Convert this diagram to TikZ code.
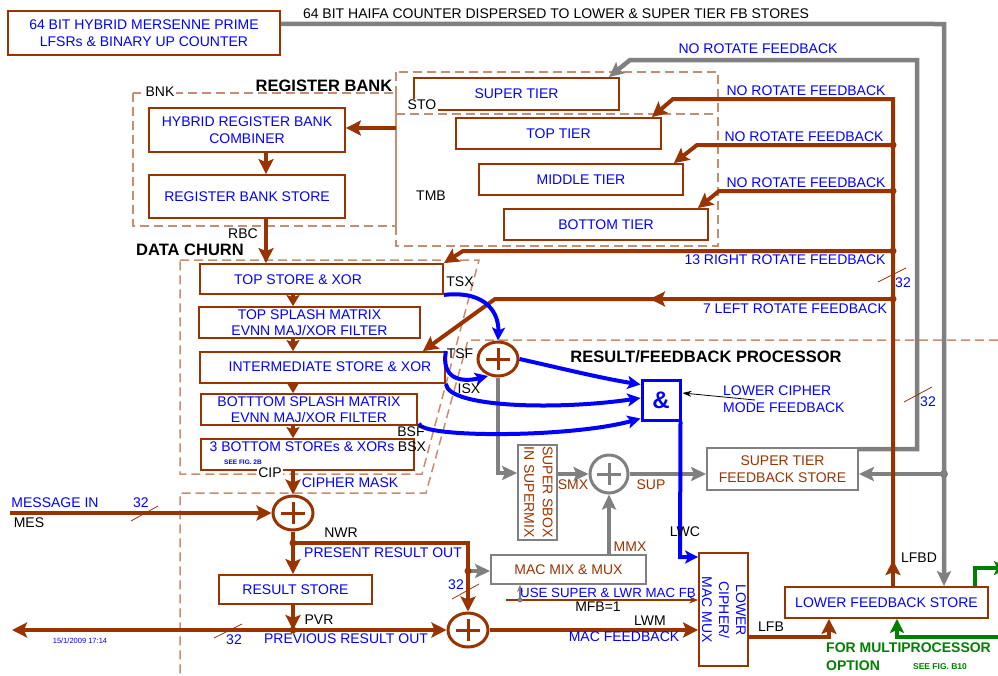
\documentclass[tikz,border=0pt]{standalone}
\usepackage{fontspec}
\setmainfont{Liberation Sans}
\usetikzlibrary{arrows.meta,shapes.geometric,calc}

\definecolor{rust}{RGB}{153,51,0}
\definecolor{ink}{RGB}{0,0,255}
\definecolor{steel}{RGB}{128,128,128}
\definecolor{frame}{RGB}{200,140,110}
\definecolor{optgreen}{RGB}{0,128,0}

\tikzset{
  base/.style={font=\fontsize{14}{16.5}\selectfont, inner sep=0pt},
  box/.style={base, draw=rust, line width=1.8pt, text=ink, align=center},
  gbox/.style={base, draw=steel, line width=1.8pt, text=rust, align=center},
  lbl/.style={base, text=black},
  wlbl/.style={base, text=black, fill=white, inner sep=1.5pt},
  blbl/.style={base, text=ink},
  rlbl/.style={base, text=rust},
  glbl/.style={font=\fontsize{14}{16.5}\selectfont\bfseries, inner sep=0pt, text=optgreen},
  title/.style={font=\fontsize{16.5}{19}\selectfont\bfseries, inner sep=0pt},
  rbus/.style={draw=rust, line width=4pt},
  rarr/.style={rbus, -{Stealth[length=15pt,width=15pt,inset=3pt]}},
  rstub/.style={rbus, -{Stealth[length=11pt,width=13pt,inset=2pt]}},
  gbus/.style={draw=steel, line width=4.5pt},
  garr/.style={gbus, -{Stealth[length=15pt,width=14pt,inset=3pt]}},
  barr/.style={draw=ink, line width=4pt, -{Stealth[length=13pt,width=13pt,inset=3pt]}},
  optarr/.style={draw=optgreen, line width=4pt, -{Stealth[length=14pt,width=14pt,inset=3pt]}},
  zone/.style={draw=frame, line width=1.5pt, dash pattern=on 9pt off 5pt},
  tick/.style={draw=rust, line width=0.8pt},
  xorgate/.style={ellipse, draw=#1, line width=3pt, minimum width=40pt,
    minimum height=34pt, inner sep=0pt,
    path picture={\draw[#1, line width=3pt]
      ([xshift=-12pt]path picture bounding box.center) --
      ([xshift=12pt]path picture bounding box.center)
      ([yshift=-11pt]path picture bounding box.center) --
      ([yshift=11pt]path picture bounding box.center);}},
}

\begin{document}
\begin{tikzpicture}[x=1pt,y=-1pt]
\useasboundingbox[fill=white] (0,0) rectangle (998,675);

% ---------- dashed zones ----------
\draw[zone] (133,93) rectangle (396,226);
\draw[zone] (396,72) rectangle (718,246);
\draw[zone] (396,114) -- (718,114);
\draw[zone] (180,260) -- (479,260) -- (422,474) -- (180,474) -- cycle;
\draw[zone] (998,340) -- (468,340) -- (426,493) -- (180,493) -- (180,675);

% ---------- titles ----------
\node[title] (ttlbank) at (324,86) {REGISTER BANK};
\node[title] (ttlchurn) at (190,250) {DATA CHURN};
\node[title] (ttlres) at (706,357) {RESULT/FEEDBACK PROCESSOR};

% ---------- boxes ----------
\node[box, minimum width=272pt, minimum height=44pt] (counter) at (144,33)
  {64 BIT HYBRID MERSENNE PRIME\\LFSRs \& BINARY UP COUNTER};
\node[box, minimum width=196pt, minimum height=44pt] (combiner) at (247,130)
  {HYBRID REGISTER BANK\\COMBINER};
\node[box, minimum width=196pt, minimum height=43pt] (rbstore) at (247,196.5)
  {REGISTER BANK STORE};

\node[box, minimum width=205pt, minimum height=32pt] (supertier) at (516.5,94) {SUPER TIER};
\node[box, minimum width=205pt, minimum height=31pt] (toptier) at (558.5,133.5) {TOP TIER};
\node[box, minimum width=204pt, minimum height=31pt] (midtier) at (581,179.5) {MIDDLE TIER};
\node[box, minimum width=204pt, minimum height=31pt] (bottier) at (606,224.5) {BOTTOM TIER};

\node[box, minimum width=243pt, minimum height=30pt] (topstore) at (321.5,279) {};
\node[blbl] (topstoretxt) at (298,280) {TOP STORE \& XOR};
\node[box, minimum width=221pt, minimum height=31pt] (topsplash) at (309.5,322.5)
  {TOP SPLASH MATRIX\\EVNN MAJ/XOR FILTER};
\node[box, minimum width=245pt, minimum height=31pt] (interstore) at (322.5,367.5) {};
\node[blbl] (interstoretxt) at (330,367) {INTERMEDIATE STORE \& XOR};
\node[box, minimum width=216pt, minimum height=31pt] (botsplash) at (309,409.5)
  {BOTTTOM SPLASH MATRIX\\EVNN MAJ/XOR FILTER};
\node[box, minimum width=213pt, minimum height=31pt] (botstores) at (307.5,454.5) {};
\node[blbl] (botstorestxt) at (302,447) {3 BOTTOM STOREs \& XORs};
\node[font=\fontsize{6.5}{7}\selectfont\bfseries, text=ink, inner sep=0pt] (fig2b) at (243,462) {SEE FIG. 2B};

\node[box, minimum width=153pt, minimum height=29pt] (resultstore) at (295.5,589.5) {RESULT STORE};
\node[gbox, minimum width=155pt, minimum height=29pt] (macmix) at (568.5,569.5) {MAC MIX \& MUX};
\node[gbox, minimum width=39pt, minimum height=95pt] (sbox) at (537.5,492.5) {};
\node[base, text=rust, rotate=-90, align=center, font=\fontsize{14}{18.5}\selectfont]
  (sboxtxt) at (538.5,492) {SUPER SBOX\\IN SUPERMIX};
\node[gbox, minimum width=151pt, minimum height=42pt] (stfb) at (782.5,469)
  {SUPER TIER\\FEEDBACK STORE};
\node[draw=ink, line width=3pt, minimum width=38pt, minimum height=40pt, inner sep=0pt,
  text=ink, font=\fontsize{24}{26}\selectfont\bfseries] (andbox) at (661,400) {\&};
\node[box, minimum width=49pt, minimum height=113pt] (lcmux) at (723.5,609.5) {};
\node[base, text=ink, rotate=-90, align=center, font=\fontsize{14}{17}\selectfont]
  (lcmuxtxt) at (724,610) {LOWER\\CIPHER/\\MAC MUX};
\node[box, minimum width=203pt, minimum height=31pt] (lfbstore) at (886.5,602.5) {LOWER FEEDBACK STORE};

% ---------- XOR gates ----------
\node[xorgate=rust] (xort) at (498,359) {};
\node[xorgate=rust] (xor1) at (293,513) {};
\node[xorgate=rust] (xor2) at (468,630) {};
\node[xorgate=steel, minimum width=38pt, minimum height=38pt] (xor3) at (609,474) {};

% ---------- HAIFA counter bus ----------
\coordinate (hc) at (944,24);
\coordinate (gj) at (944,474);
\draw[garr] ($(counter.north east)!0.3!(counter.south east)$) -- (hc) -- (hc |- lfbstore.north);
\fill[steel] (gj) circle (4pt);
\draw[garr] (gj) -- (gj -| stfb.east);

% super tier feedback (no rotate)
\coordinate (sf1) at (917,60);
\coordinate (sf2) at (630,60);
\draw[garr] ($(stfb.north east)+(0,2)$) -| (sf1) -- (sf2) -- ($(supertier.north east)+(-11,0)$);

% ---------- lower feedback bus ----------
\coordinate (fbx) at (893,99);
\coordinate (fbbase) at (lfbstore.north -| fbx);
\coordinate (fb1) at (673,99);
\coordinate (fbj2) at (893,145);
\coordinate (fb2) at (697,145);
\coordinate (fbj3) at (893,191);
\coordinate (fb3) at (719,191);
\coordinate (fbj4) at (893,251);
\coordinate (fb4) at (463,251);
\coordinate (fbj5) at (893,299);
\coordinate (fb5m) at (650,299);
\coordinate (fb5n) at (662,299);
\coordinate (fb5) at (495,299);
\draw[rarr] (fbbase) -- ++(0,-26);
\draw[rarr] ($(fbbase)+(0,-16)$) -- (fbx) -- (fb1) -- ($(toptier.north east)+(-10,0)$);
\draw[rarr] (fbj2) -- (fb2) -- ($(midtier.north east)+(-10,0)$);
\draw[rarr] (fbj3) -- (fb3) -- ($(bottier.north east)+(-11,0)$);
\draw[rarr] (fbj4) -- (fb4) -- (topstore.north east);
\draw[rarr] (fbj5) -- (fb5m);
\draw[rarr] (fb5n) -- (fb5) -- ($(interstore.north east)+(-23,0)$);
\foreach \j in {fbj2,fbj3,fbj4,fbj5} \fill[rust] (\j) circle (3.5pt);

% ---------- register bank ----------
\coordinate (tmbout) at (396,128);
\coordinate (rcol) at (266,0);
\draw[rarr] (tmbout) -- (tmbout -| combiner.east);
\draw[rarr] (combiner.south -| rcol) -- (rbstore.north -| rcol);
\draw[rarr] (rbstore.south -| rcol) -- (topstore.north -| rcol);

% ---------- data churn chain ----------
\coordinate (ccol) at (293,0);
\draw[rstub] (topstore.south -| ccol) -- (topsplash.north -| ccol);
\draw[rstub] (topsplash.south -| ccol) -- (interstore.north -| ccol);
\draw[rstub] (interstore.south -| ccol) -- (botsplash.north -| ccol);
\draw[rstub] (botsplash.south -| ccol) -- (botstores.north -| ccol);
\draw[rarr] (botstores.south -| ccol) -- (xor1.north);

% ---------- message / result path ----------
\coordinate (mesin) at (10,513);
\coordinate (nwr) at (293,543);
\coordinate (nwrc) at (468,543);
\coordinate (mmj) at (468,571);
\coordinate (pvr) at (293,630);
\coordinate (outl) at (12,630);
\draw[rarr] (mesin) -- (xor1.west);
\draw[rarr] (xor1.south) -- (resultstore.north -| ccol);
\draw[rarr] (nwr) -- (nwrc) -- (xor2.north);
\fill[rust] (nwr) circle (3.5pt);
\draw[garr] (mmj) -- (mmj -| macmix.west);
\fill[rust] (mmj) circle (3.5pt);
\draw[rarr] (resultstore.south -| ccol) -- (pvr);
\draw[rarr] (pvr) -- (outl);
\draw[rarr] (pvr) -- (xor2.west);
\fill[rust] (pvr) circle (3.5pt);
\draw[rarr] (xor2.east) -- (xor2.east -| lcmux.west);

% mac feedback select
\coordinate (mfb) at (506,600);
\coordinate (mfbj) at (520,600);
\draw[rust, line width=1.2pt, -{Stealth[length=9pt,width=7pt]}] (mfb) -- (mfb -| lcmux.west);
\draw[steel, line width=1.5pt, -{Stealth[length=7pt,width=6pt]}] (mfbj) -- (mfbj |- macmix.south);
\fill[steel] (mfbj) circle (2.5pt);

% lower feedback
\coordinate (lfbc) at (829,637);
\draw[rarr] (lcmux.east |- lfbc) -- (lfbc) -- (lfbc |- lfbstore.south);

% multiprocessor option
\coordinate (gin) at (1000,637);
\coordinate (gc) at (897,637);
\coordinate (gout) at (975,568);
\coordinate (goutend) at (1008,568);
\draw[optarr] (gin) -- (gc) -- (gc |- lfbstore.south);
\draw[optarr] (lfbstore.north -| gout) -- (gout) -- (goutend);

% ---------- supermix (grey) ----------
\coordinate (sbc) at (498,473);
\draw[garr] (xort.south) -- (sbc) -- (sbc -| sbox.west);
\draw[garr] (sbox.east |- xor3) -- (xor3.west);
\draw[garr] (xor3.east) -- (xor3.east -| stfb.west);
\draw[garr] (macmix.north -| xor3) -- (xor3.south);

% ---------- cipher (blue) ----------
\coordinate (tsfend) at (488,376);
\coordinate (lwc) at (680,557);
\draw[barr] (topstore.south east) .. controls (488,290) and (499,315) .. (xort.north);
\draw[barr] (interstore.north east) .. controls (441,378) and (460,383) .. (tsfend);
\draw[barr] (interstore.south east) .. controls (448,408) and (560,410) .. ($(andbox.west)+(0,-2)$);
\draw[barr] ($(botsplash.east)+(1,14)$) .. controls (420,438) and (570,438) .. ($(andbox.south west)+(0,-3)$);
\draw[barr] (xort.east) .. controls (560,368) and (600,378) .. ($(andbox.north west)+(0,6)$);
\draw[barr] ($(andbox.south east)+(-1,0)$) -- (lwc) -- (lwc -| lcmux.west);

\coordinate (lcmf) at (755,400);
\draw[black, line width=0.8pt, -{Stealth[length=9pt,width=6pt]}] (lcmf) -- ($(andbox.east)+(1,-7)$);

% ---------- bus width ticks ----------
\draw[tick] (131,521) -- (158,506);
\draw[tick] (214,638) -- (242,624);
\draw[tick] (452,599) -- (479,584);
\draw[tick] (878,282) -- (906,268);
\draw[tick] (904,402) -- (932,387);
\node[blbl] (w1) at (141,503) {32};
\node[blbl] (w2) at (234,640) {32};
\node[blbl] (w3) at (456,585) {32};
\node[blbl] (w4) at (903,283) {32};
\node[blbl] (w5) at (928,402) {32};

% ---------- signal names ----------
\node[lbl] (haifa) at (556,14) {64 BIT HAIFA COUNTER DISPERSED TO LOWER \& SUPER TIER FB STORES};
\node[wlbl] (bnk) at (160,92) {BNK};
\node[wlbl] (sto) at (422,105) {STO};
\node[lbl] (tmb) at (431,196) {TMB};
\node[lbl] (rbc) at (243,234) {RBC};
\node[lbl] (tsx) at (460,282) {TSX};
\node[lbl] (tsf) at (460,354) {TSF};
\node[lbl] (isx) at (469,389) {ISX};
\node[lbl] (bsf) at (411,432) {BSF};
\node[lbl] (bsx) at (412,447) {BSX};
\node[wlbl] (cip) at (270,473) {CIP};
\node[lbl] (nwrl) at (341,533) {NWR};
\node[lbl] (pvrl) at (319,620) {PVR};
\node[lbl] (mes) at (29,523) {MES};
\node[lbl] (lwcl) at (685,532) {LWC};
\node[lbl] (mfbl) at (598,607) {MFB=1};
\node[lbl] (lwm) at (650,621) {LWM};
\node[lbl] (lfbl) at (771,627) {LFB};
\node[lbl] (lfbd) at (919,558) {LFBD};

\node[blbl] (nr1) at (758,49) {NO ROTATE FEEDBACK};
\node[blbl] (nr2) at (806,91) {NO ROTATE FEEDBACK};
\node[blbl] (nr3) at (804,137) {NO ROTATE FEEDBACK};
\node[blbl] (nr4) at (806,183) {NO ROTATE FEEDBACK};
\node[blbl] (rr13) at (785,260) {13 RIGHT ROTATE FEEDBACK};
\node[blbl] (lr7) at (795,309) {7 LEFT ROTATE FEEDBACK};
\node[blbl] (ciphm) at (350,483) {CIPHER MASK};
\node[blbl] (msgin) at (55,503) {MESSAGE IN};
\node[blbl] (presout) at (383,553) {PRESENT RESULT OUT};
\node[blbl] (prevout) at (346,639) {PREVIOUS RESULT OUT};
\node[blbl] (macfb) at (624,637) {MAC FEEDBACK};
\node[blbl, font=\fontsize{13.3}{15}\selectfont] (usesup) at (608,593) {USE SUPER \& LWR MAC FB};
\node[blbl, align=left, anchor=west] (lcmfl) at (723,399) {LOWER CIPHER\\MODE FEEDBACK};
\node[font=\fontsize{7.5}{8}\selectfont, text=ink, inner sep=0pt] (stamp) at (80,641) {15/1/2009 17:14};

\node[rlbl] (smx) at (573,485) {SMX};
\node[rlbl] (sup) at (651,485) {SUP};
\node[rlbl] (mmx) at (630,547) {MMX};

\node[glbl, anchor=west] (mp1) at (826,648) {FOR MULTIPROCESSOR};
\node[glbl, anchor=west] (mp2) at (826,666) {OPTION};
\node[font=\fontsize{8.5}{9}\selectfont\bfseries, text=optgreen, inner sep=0pt] (b10) at (940,667) {SEE FIG. B10};
\end{tikzpicture}
\end{document}
